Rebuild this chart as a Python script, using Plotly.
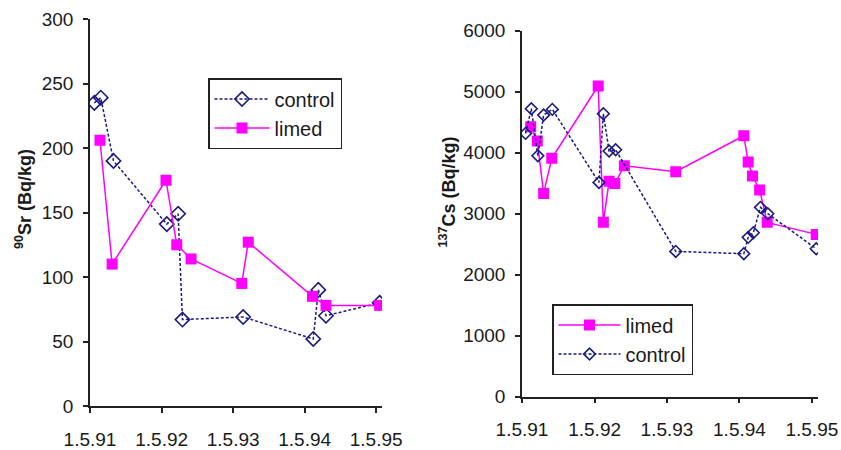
import plotly.graph_objects as go

# ---- Data ----
tick_vals = ["1991-05-01", "1992-05-01", "1993-05-01", "1994-05-01", "1995-05-01"]
tick_text = ["1.5.91", "1.5.92", "1.5.93", "1.5.94", "1.5.95"]

sr_control_dates = ["1991-05-23", "1991-06-25", "1991-08-29", "1992-05-27", "1992-07-24",
                    "1992-08-15", "1993-06-21", "1994-06-14", "1994-07-10", "1994-08-18",
                    "1995-05-19"]
sr_control = [235, 239, 190, 141, 149, 67, 69, 52, 90, 70, 80]

sr_limed_dates = ["1991-06-21", "1991-08-22", "1992-05-23", "1992-07-17", "1992-09-28",
                  "1993-06-14", "1993-07-17", "1994-06-10", "1994-08-18", "1995-05-19"]
sr_limed = [206, 110, 175, 125, 114, 95, 127, 85, 78, 78]

cs_control_dates = ["1991-05-19", "1991-06-17", "1991-07-20", "1991-08-18", "1991-10-01",
                    "1992-05-23", "1992-06-14", "1992-07-13", "1992-08-15", "1993-06-14",
                    "1994-05-23", "1994-06-14", "1994-07-10", "1994-08-15", "1994-09-21",
                    "1995-05-23"]
cs_control = [4317, 4721, 3950, 4617, 4710, 3513, 4639, 4027, 4049, 2382,
              2344, 2612, 2688, 3104, 3000, 2426]

cs_limed_dates = ["1991-06-14", "1991-07-17", "1991-08-18", "1991-09-28", "1992-05-19",
                  "1992-06-14", "1992-07-13", "1992-08-11", "1992-09-28", "1993-06-14",
                  "1994-05-23", "1994-06-14", "1994-07-06", "1994-08-11", "1994-09-18",
                  "1995-05-23"]
cs_limed = [4426, 4191, 3333, 3907, 5093, 2858, 3530, 3497, 3787, 3688,
            4278, 3847, 3617, 3388, 2858, 2661]

# ---- Styles ----
NAVY = "#1a1a80"
MAG = "#ff00ff"
FONT = "Liberation Sans, Arial, sans-serif"
TXT = "#1a1a1a"

fig = go.Figure()

ctrl_line = dict(color=NAVY, width=1.5, dash="3px,2px")
ctrl_marker = dict(symbol="diamond-open", size=11, color=NAVY, line=dict(width=1.6, color=NAVY))
lim_line = dict(color=MAG, width=1.5)
lim_marker = dict(symbol="square", size=11, color=MAG)

# Left panel
fig.add_trace(go.Scatter(x=sr_control_dates, y=sr_control, mode="lines+markers", name="control",
                         line=ctrl_line, marker=ctrl_marker, xaxis="x", yaxis="y", legend="legend"))
fig.add_trace(go.Scatter(x=sr_limed_dates, y=sr_limed, mode="lines+markers", name="limed",
                         line=lim_line, marker=lim_marker, xaxis="x", yaxis="y", legend="legend"))
# Right panel
fig.add_trace(go.Scatter(x=cs_limed_dates, y=cs_limed, mode="lines+markers", name="limed",
                         line=lim_line, marker=lim_marker, xaxis="x2", yaxis="y2", legend="legend2"))
fig.add_trace(go.Scatter(x=cs_control_dates, y=cs_control, mode="lines+markers", name="control",
                         line=ctrl_line, marker=dict(ctrl_marker, size=9), xaxis="x2", yaxis="y2",
                         legend="legend2"))

axis_common = dict(showgrid=False, zeroline=False, showline=True, linecolor="#222", linewidth=1.5,
                   ticks="outside", ticklen=5, tickwidth=1.5, tickcolor="#222", automargin=False,
                   tickfont=dict(family=FONT, size=19, color=TXT))

fig.update_layout(
    template="none",
    width=841, height=450,
    margin=dict(l=0, r=0, t=0, b=0, autoexpand=False),
    paper_bgcolor="white", plot_bgcolor="white",
    font=dict(family=FONT, color=TXT),
    hovermode=False,
    xaxis=dict(axis_common, domain=[90/841, 382/841], type="date",
               range=["1991-05-01", "1995-05-31"], tickvals=tick_vals, ticktext=tick_text,
               anchor="y", tickangle=0, ticklabelstandoff=10),
    yaxis=dict(axis_common, domain=[1-406/450, 1-19/450], range=[0, 300],
               tickvals=[0, 50, 100, 150, 200, 250, 300], anchor="x", ticklabelstandoff=6),
    xaxis2=dict(axis_common, domain=[522/841, 818/841], type="date",
                range=["1991-05-01", "1995-06-01"], tickvals=tick_vals, ticktext=tick_text,
                anchor="y2", tickangle=0, ticklabelstandoff=10),
    yaxis2=dict(axis_common, domain=[1-396.7/450, 1-30.7/450], range=[0, 6000],
                tickvals=[0, 1000, 2000, 3000, 4000, 5000, 6000], anchor="x2", ticklabelstandoff=6),
    legend=dict(x=208/841, y=1-78/450, xanchor="left", yanchor="top",
                bordercolor="#222", borderwidth=1.5, bgcolor="white", itemwidth=55,
                font=dict(family=FONT, size=20, color=TXT), tracegroupgap=0),
    legend2=dict(x=552/841, y=1-304/450, xanchor="left", yanchor="top",
                 bordercolor="#222", borderwidth=1.5, bgcolor="white", itemwidth=62,
                 font=dict(family=FONT, size=20, color=TXT), tracegroupgap=0),
    annotations=[
        dict(text="<b><sup>90</sup>Sr (Bq/kg)</b>", textangle=-90, xref="paper", yref="paper",
             x=23/841, y=1-199/450, xanchor="center", yanchor="middle", showarrow=False,
             font=dict(family=FONT, size=18, color=TXT)),
        dict(text="<b><sup>137</sup>Cs (Bq/kg)</b>", textangle=-90, xref="paper", yref="paper",
             x=448/841, y=1-192.5/450, xanchor="center", yanchor="middle", showarrow=False,
             font=dict(family=FONT, size=18, color=TXT)),
    ],
)

fig.write_html("out.html")
